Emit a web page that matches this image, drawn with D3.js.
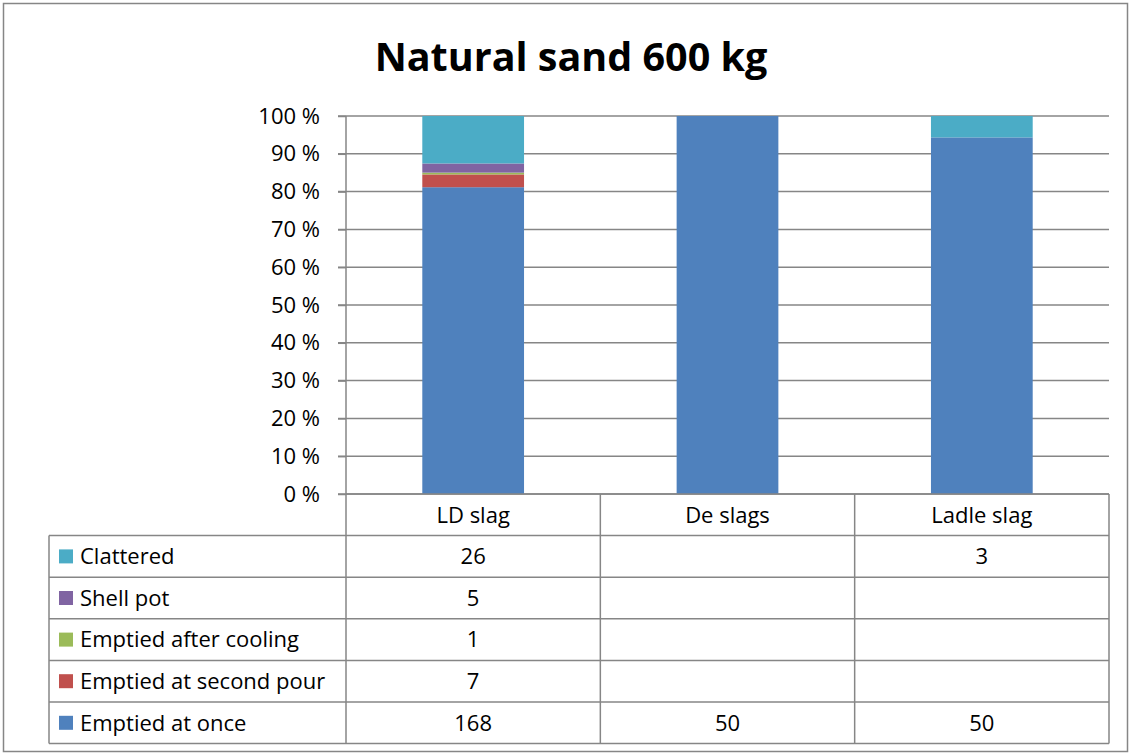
<!DOCTYPE html>
<html>
<head>
<meta charset="utf-8">
<script src="https://cdn.jsdelivr.net/npm/d3@7"></script>
<style>
  body { margin: 0; background: #fff; }
  text { font-family: "Open Sans", sans-serif; fill: #000; }
</style>
</head>
<body>
<div id="chart"></div>
<script>
const width = 1132,
    height = 755

// data
const categories = ["LD slag", "De slags", "Ladle slag"]
const seriesNames = ["Emptied at once", "Emptied at second pour", "Emptied after cooling", "Shell pot", "Clattered"]
const seriesColors = ["#4F81BD", "#C0504D", "#9BBB59", "#8064A2", "#4BACC6"]
const emptiedAtOnce = [168, 50, 50]
const emptiedSecondPour = [7, null, null]
const emptiedAfterCooling = [1, null, null]
const shellPot = [5, null, null]
const clattered = [26, null, 3]
const yTicks = [0, 0.1, 0.2, 0.3, 0.4, 0.5, 0.6, 0.7, 0.8, 0.9, 1]

const seriesValues = [emptiedAtOnce, emptiedSecondPour, emptiedAfterCooling, shellPot, clattered]

const rows = categories.map((c, i) => {
    const r = { cat: c }
    seriesNames.forEach((s, j) => r[s] = seriesValues[j][i] || 0)
    return r
})

const margin = { left: 346, right: 1109, top: 116, bottom: 494 }
const tableLeft = 49, rowH = 41.6
const fontSize = "22px"

var svg = d3.select("#chart")
    .append("svg")
    .attr("width", width)
    .attr("height", height)

// outer border
svg.append("rect")
    .attr("x", 3.5).attr("y", 3.5)
    .attr("width", 1124).attr("height", 748)
    .attr("fill", "none")
    .attr("stroke", "#868686")
    .attr("stroke-width", 1.5)

svg.append("text")
    .attr("x", 571)
    .attr("y", 71)
    .attr("text-anchor", "middle")
    .style("font-weight", "bold")
    .style("font-size", "39.5px")
    .text("Natural sand 600 kg")

var x = d3.scaleBand()
    .domain(categories)
    .range([margin.left, margin.right])
    .paddingInner(0.6)
    .paddingOuter(0.3)

var xCol = d3.scaleBand()
    .domain(categories)
    .range([margin.left, margin.right])

var y = d3.scaleLinear()
    .domain([0, 1])
    .range([margin.bottom, margin.top])

// gridlines
svg.append("g")
    .selectAll("line")
    .data(yTicks)
    .enter()
    .append("line")
    .attr("x1", margin.left - 8)
    .attr("x2", margin.right)
    .attr("y1", d => y(d))
    .attr("y2", d => y(d))
    .attr("stroke", "#868686")
    .attr("stroke-width", 1.5)

var yAxis = svg.append("g")
    .attr("transform", `translate(${margin.left},0)`)
    .call(d3.axisLeft(y)
        .tickValues(yTicks)
        .tickSize(8)
        .tickPadding(18)
        .tickFormat(d => Math.round(d * 100) + " %"))
yAxis.select(".domain").remove()
yAxis.selectAll("line").attr("stroke", "#868686").attr("stroke-width", 1.5)
yAxis.selectAll("text")
    .style("font-size", fontSize)
    .style("font-family", "'Open Sans', sans-serif")
    .attr("fill", "#000")

// stacked bars
var stack = d3.stack()
    .keys(seriesNames)
    .offset(d3.stackOffsetExpand)

var layers = stack(rows)

svg.append("g")
    .selectAll("g")
    .data(layers)
    .enter()
    .append("g")
    .attr("fill", (d, i) => seriesColors[i])
    .selectAll("rect")
    .data(d => d)
    .enter()
    .append("rect")
    .attr("x", d => x(d.data.cat))
    .attr("width", x.bandwidth())
    .attr("y", d => y(d[1]))
    .attr("height", d => Math.max(0, y(d[0]) - y(d[1])))

// axis line
svg.append("line")
    .attr("x1", margin.left).attr("x2", margin.left)
    .attr("y1", margin.top).attr("y2", margin.bottom)
    .attr("stroke", "#868686")
    .attr("stroke-width", 1.5)

// data table
var table = svg.append("g")
const tableRows = seriesNames.slice().reverse()
const tableTop = margin.bottom + rowH
const tableBottom = tableTop + rowH * tableRows.length

// horizontal lines
table.append("line")
    .attr("x1", margin.left).attr("x2", margin.right)
    .attr("y1", margin.bottom).attr("y2", margin.bottom)
    .attr("stroke", "#868686").attr("stroke-width", 1.5)
table.selectAll("line.h")
    .data(d3.range(tableRows.length + 1))
    .enter()
    .append("line")
    .attr("class", "h")
    .attr("x1", tableLeft)
    .attr("x2", margin.right)
    .attr("y1", i => tableTop + i * rowH)
    .attr("y2", i => tableTop + i * rowH)
    .attr("stroke", "#868686").attr("stroke-width", 1.5)

// vertical lines
table.append("line")
    .attr("x1", tableLeft).attr("x2", tableLeft)
    .attr("y1", tableTop).attr("y2", tableBottom)
    .attr("stroke", "#868686").attr("stroke-width", 1.5)
table.selectAll("line.v")
    .data(categories.concat(["end"]))
    .enter()
    .append("line")
    .attr("class", "v")
    .attr("x1", d => d === "end" ? margin.right : xCol(d))
    .attr("x2", d => d === "end" ? margin.right : xCol(d))
    .attr("y1", margin.bottom)
    .attr("y2", tableBottom)
    .attr("stroke", "#868686").attr("stroke-width", 1.5)

// header
table.selectAll("text.cat")
    .data(categories)
    .enter()
    .append("text")
    .attr("class", "cat")
    .attr("x", d => xCol(d) + xCol.bandwidth() / 2)
    .attr("y", margin.bottom + rowH / 2)
    .attr("dy", "0.35em")
    .attr("text-anchor", "middle")
    .style("font-size", fontSize)
    .text(d => d)

// legend keys + labels
var rowG = table.selectAll("g.row")
    .data(tableRows)
    .enter()
    .append("g")
    .attr("class", "row")
    .attr("transform", (d, i) => `translate(0,${tableTop + i * rowH})`)

rowG.append("rect")
    .attr("x", 59)
    .attr("y", rowH / 2 - 7)
    .attr("width", 14)
    .attr("height", 14)
    .attr("fill", d => seriesColors[seriesNames.indexOf(d)])

rowG.append("text")
    .attr("x", 80)
    .attr("y", rowH / 2)
    .attr("dy", "0.35em")
    .style("font-size", fontSize)
    .text(d => d)

rowG.selectAll("text.val")
    .data(d => categories.map((c, i) => ({ cat: c, v: seriesValues[seriesNames.indexOf(d)][i] })))
    .enter()
    .append("text")
    .attr("class", "val")
    .attr("x", d => xCol(d.cat) + xCol.bandwidth() / 2)
    .attr("y", rowH / 2)
    .attr("dy", "0.35em")
    .attr("text-anchor", "middle")
    .style("font-size", fontSize)
    .text(d => d.v == null ? "" : d.v)
</script>
</body>
</html>
